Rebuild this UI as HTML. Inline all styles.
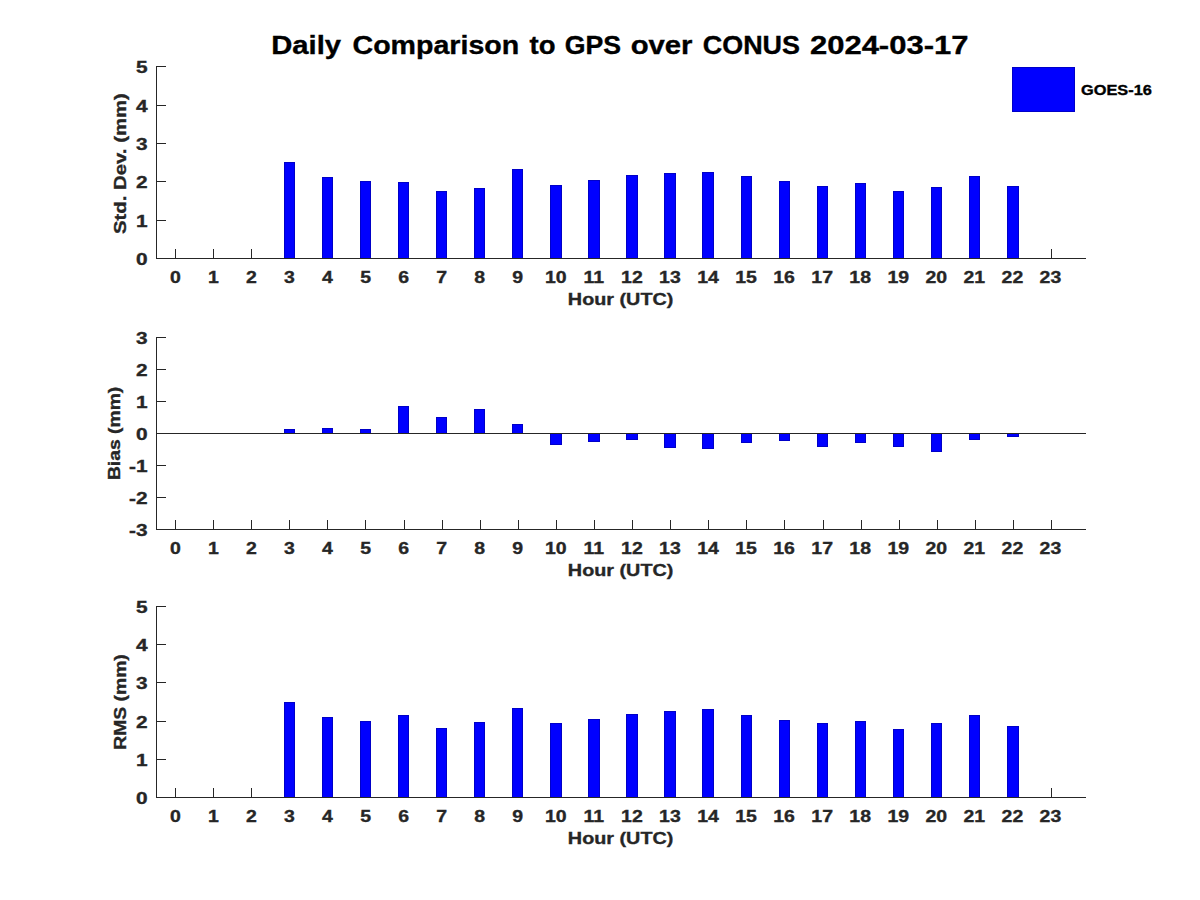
<!DOCTYPE html><html><head><meta charset="utf-8"><style>html,body{margin:0;padding:0;background:#fff;width:1200px;height:900px;overflow:hidden}svg{display:block}text{font-family:"Liberation Sans",sans-serif;font-weight:bold;stroke-width:0.35px}</style></head><body>
<svg width="1200" height="900" viewBox="0 0 1200 900">
<rect width="1200" height="900" fill="#fff"/>
<text transform="translate(271.25 54) scale(1.1250 1)" font-size="26" fill="#000" stroke="#000">Daily</text><text transform="translate(352.50 54) scale(1.0993 1)" font-size="26" fill="#000" stroke="#000">Comparison</text><text transform="translate(529.60 54) scale(1.0583 1)" font-size="26" fill="#000" stroke="#000">to</text><text transform="translate(564.77 54) scale(1.0264 1)" font-size="26" fill="#000" stroke="#000">GPS</text><text transform="translate(630.67 54) scale(1.1259 1)" font-size="26" fill="#000" stroke="#000">over</text><text transform="translate(702.76 54) scale(1.0359 1)" font-size="26" fill="#000" stroke="#000">CONUS</text><text transform="translate(809.91 54) scale(1.1924 1)" font-size="26" fill="#000" stroke="#000">2024-03-17</text>
<path d="M156 258.5H166M156 220.5H166M156 181.5H166M156 143.5H166M156 105.5H166M156 66.5H166M175.5 249V258M213.5 249V258M251.5 249V258M289.5 249V258M327.5 249V258M365.5 249V258M404.5 249V258M442.5 249V258M480.5 249V258M518.5 249V258M556.5 249V258M594.5 249V258M632.5 249V258M670.5 249V258M708.5 249V258M746.5 249V258M784.5 249V258M823.5 249V258M861.5 249V258M899.5 249V258M937.5 249V258M975.5 249V258M1013.5 249V258M1051.5 249V258" stroke="#262626" stroke-width="1" fill="none"/>
<rect x="284.5" y="162.5" width="10" height="96" fill="#0000ff" stroke="#0000c8" stroke-width="1"/>
<rect x="322.5" y="177.5" width="10" height="81" fill="#0000ff" stroke="#0000c8" stroke-width="1"/>
<rect x="360.5" y="181.5" width="10" height="77" fill="#0000ff" stroke="#0000c8" stroke-width="1"/>
<rect x="398.5" y="182.5" width="10" height="76" fill="#0000ff" stroke="#0000c8" stroke-width="1"/>
<rect x="436.5" y="191.5" width="10" height="67" fill="#0000ff" stroke="#0000c8" stroke-width="1"/>
<rect x="474.5" y="188.5" width="10" height="70" fill="#0000ff" stroke="#0000c8" stroke-width="1"/>
<rect x="512.5" y="169.5" width="10" height="89" fill="#0000ff" stroke="#0000c8" stroke-width="1"/>
<rect x="550.5" y="185.5" width="11" height="73" fill="#0000ff" stroke="#0000c8" stroke-width="1"/>
<rect x="588.5" y="180.5" width="11" height="78" fill="#0000ff" stroke="#0000c8" stroke-width="1"/>
<rect x="626.5" y="175.5" width="11" height="83" fill="#0000ff" stroke="#0000c8" stroke-width="1"/>
<rect x="664.5" y="173.5" width="11" height="85" fill="#0000ff" stroke="#0000c8" stroke-width="1"/>
<rect x="702.5" y="172.5" width="11" height="86" fill="#0000ff" stroke="#0000c8" stroke-width="1"/>
<rect x="741.5" y="176.5" width="10" height="82" fill="#0000ff" stroke="#0000c8" stroke-width="1"/>
<rect x="779.5" y="181.5" width="10" height="77" fill="#0000ff" stroke="#0000c8" stroke-width="1"/>
<rect x="817.5" y="186.5" width="10" height="72" fill="#0000ff" stroke="#0000c8" stroke-width="1"/>
<rect x="855.5" y="183.5" width="10" height="75" fill="#0000ff" stroke="#0000c8" stroke-width="1"/>
<rect x="893.5" y="191.5" width="10" height="67" fill="#0000ff" stroke="#0000c8" stroke-width="1"/>
<rect x="931.5" y="187.5" width="10" height="71" fill="#0000ff" stroke="#0000c8" stroke-width="1"/>
<rect x="969.5" y="176.5" width="10" height="82" fill="#0000ff" stroke="#0000c8" stroke-width="1"/>
<rect x="1007.5" y="186.5" width="11" height="72" fill="#0000ff" stroke="#0000c8" stroke-width="1"/>
<path d="M156.5 66V259M156 258.5H1086" stroke="#262626" stroke-width="1" fill="none"/>
<text transform="translate(147.5 265.2) scale(1.2 1)" font-size="17.4" fill="#262626" stroke="#262626" text-anchor="end">0</text>
<text transform="translate(147.5 227.2) scale(1.2 1)" font-size="17.4" fill="#262626" stroke="#262626" text-anchor="end">1</text>
<text transform="translate(147.5 188.2) scale(1.2 1)" font-size="17.4" fill="#262626" stroke="#262626" text-anchor="end">2</text>
<text transform="translate(147.5 150.2) scale(1.2 1)" font-size="17.4" fill="#262626" stroke="#262626" text-anchor="end">3</text>
<text transform="translate(147.5 112.2) scale(1.2 1)" font-size="17.4" fill="#262626" stroke="#262626" text-anchor="end">4</text>
<text transform="translate(147.5 73.2) scale(1.2 1)" font-size="17.4" fill="#262626" stroke="#262626" text-anchor="end">5</text>
<text transform="translate(175.30 283) scale(1.12 1)" font-size="17.4" fill="#262626" stroke="#262626" text-anchor="middle">0</text>
<text transform="translate(213.35 283) scale(1.12 1)" font-size="17.4" fill="#262626" stroke="#262626" text-anchor="middle">1</text>
<text transform="translate(251.40 283) scale(1.12 1)" font-size="17.4" fill="#262626" stroke="#262626" text-anchor="middle">2</text>
<text transform="translate(289.45 283) scale(1.12 1)" font-size="17.4" fill="#262626" stroke="#262626" text-anchor="middle">3</text>
<text transform="translate(327.50 283) scale(1.12 1)" font-size="17.4" fill="#262626" stroke="#262626" text-anchor="middle">4</text>
<text transform="translate(365.55 283) scale(1.12 1)" font-size="17.4" fill="#262626" stroke="#262626" text-anchor="middle">5</text>
<text transform="translate(403.60 283) scale(1.12 1)" font-size="17.4" fill="#262626" stroke="#262626" text-anchor="middle">6</text>
<text transform="translate(441.65 283) scale(1.12 1)" font-size="17.4" fill="#262626" stroke="#262626" text-anchor="middle">7</text>
<text transform="translate(479.70 283) scale(1.12 1)" font-size="17.4" fill="#262626" stroke="#262626" text-anchor="middle">8</text>
<text transform="translate(517.75 283) scale(1.12 1)" font-size="17.4" fill="#262626" stroke="#262626" text-anchor="middle">9</text>
<text transform="translate(555.80 283) scale(1.12 1)" font-size="17.4" fill="#262626" stroke="#262626" text-anchor="middle">10</text>
<text transform="translate(593.85 283) scale(1.12 1)" font-size="17.4" fill="#262626" stroke="#262626" text-anchor="middle">11</text>
<text transform="translate(631.90 283) scale(1.12 1)" font-size="17.4" fill="#262626" stroke="#262626" text-anchor="middle">12</text>
<text transform="translate(669.95 283) scale(1.12 1)" font-size="17.4" fill="#262626" stroke="#262626" text-anchor="middle">13</text>
<text transform="translate(708.00 283) scale(1.12 1)" font-size="17.4" fill="#262626" stroke="#262626" text-anchor="middle">14</text>
<text transform="translate(746.05 283) scale(1.12 1)" font-size="17.4" fill="#262626" stroke="#262626" text-anchor="middle">15</text>
<text transform="translate(784.10 283) scale(1.12 1)" font-size="17.4" fill="#262626" stroke="#262626" text-anchor="middle">16</text>
<text transform="translate(822.15 283) scale(1.12 1)" font-size="17.4" fill="#262626" stroke="#262626" text-anchor="middle">17</text>
<text transform="translate(860.20 283) scale(1.12 1)" font-size="17.4" fill="#262626" stroke="#262626" text-anchor="middle">18</text>
<text transform="translate(898.25 283) scale(1.12 1)" font-size="17.4" fill="#262626" stroke="#262626" text-anchor="middle">19</text>
<text transform="translate(936.30 283) scale(1.12 1)" font-size="17.4" fill="#262626" stroke="#262626" text-anchor="middle">20</text>
<text transform="translate(974.35 283) scale(1.12 1)" font-size="17.4" fill="#262626" stroke="#262626" text-anchor="middle">21</text>
<text transform="translate(1012.40 283) scale(1.12 1)" font-size="17.4" fill="#262626" stroke="#262626" text-anchor="middle">22</text>
<text transform="translate(1050.45 283) scale(1.12 1)" font-size="17.4" fill="#262626" stroke="#262626" text-anchor="middle">23</text>
<text transform="translate(620.6 305) scale(1.137 1)" font-size="17.4" fill="#262626" stroke="#262626" text-anchor="middle">Hour (UTC)</text>
<text transform="translate(125.7 163.6) rotate(-90) scale(1.17 1)" x="0" y="0" font-size="17.4" fill="#262626" stroke="#262626" text-anchor="middle">Std. Dev. (mm)</text>
<path d="M156 529.5H166M156 497.5H166M156 465.5H166M156 433.5H166M156 401.5H166M156 369.5H166M156 337.5H166M175.5 520V529M213.5 520V529M251.5 520V529M289.5 520V529M327.5 520V529M365.5 520V529M404.5 520V529M442.5 520V529M480.5 520V529M518.5 520V529M556.5 520V529M594.5 520V529M632.5 520V529M670.5 520V529M708.5 520V529M746.5 520V529M784.5 520V529M823.5 520V529M861.5 520V529M899.5 520V529M937.5 520V529M975.5 520V529M1013.5 520V529M1051.5 520V529" stroke="#262626" stroke-width="1" fill="none"/>
<rect x="284.5" y="429.5" width="10" height="4" fill="#0000ff" stroke="#0000c8" stroke-width="1"/>
<rect x="322.5" y="428.5" width="10" height="5" fill="#0000ff" stroke="#0000c8" stroke-width="1"/>
<rect x="360.5" y="429.5" width="10" height="4" fill="#0000ff" stroke="#0000c8" stroke-width="1"/>
<rect x="398.5" y="406.5" width="10" height="27" fill="#0000ff" stroke="#0000c8" stroke-width="1"/>
<rect x="436.5" y="417.5" width="10" height="16" fill="#0000ff" stroke="#0000c8" stroke-width="1"/>
<rect x="474.5" y="409.5" width="10" height="24" fill="#0000ff" stroke="#0000c8" stroke-width="1"/>
<rect x="512.5" y="424.5" width="10" height="9" fill="#0000ff" stroke="#0000c8" stroke-width="1"/>
<rect x="550.5" y="433.5" width="11" height="11" fill="#0000ff" stroke="#0000c8" stroke-width="1"/>
<rect x="588.5" y="433.5" width="11" height="8" fill="#0000ff" stroke="#0000c8" stroke-width="1"/>
<rect x="626.5" y="433.5" width="11" height="6" fill="#0000ff" stroke="#0000c8" stroke-width="1"/>
<rect x="664.5" y="433.5" width="11" height="14" fill="#0000ff" stroke="#0000c8" stroke-width="1"/>
<rect x="702.5" y="433.5" width="11" height="15" fill="#0000ff" stroke="#0000c8" stroke-width="1"/>
<rect x="741.5" y="433.5" width="10" height="9" fill="#0000ff" stroke="#0000c8" stroke-width="1"/>
<rect x="779.5" y="433.5" width="10" height="7" fill="#0000ff" stroke="#0000c8" stroke-width="1"/>
<rect x="817.5" y="433.5" width="10" height="13" fill="#0000ff" stroke="#0000c8" stroke-width="1"/>
<rect x="855.5" y="433.5" width="10" height="9" fill="#0000ff" stroke="#0000c8" stroke-width="1"/>
<rect x="893.5" y="433.5" width="10" height="13" fill="#0000ff" stroke="#0000c8" stroke-width="1"/>
<rect x="931.5" y="433.5" width="10" height="18" fill="#0000ff" stroke="#0000c8" stroke-width="1"/>
<rect x="969.5" y="433.5" width="10" height="6" fill="#0000ff" stroke="#0000c8" stroke-width="1"/>
<rect x="1007.5" y="433.5" width="11" height="3" fill="#0000ff" stroke="#0000c8" stroke-width="1"/>
<path d="M156.5 337V530M156 529.5H1086" stroke="#262626" stroke-width="1" fill="none"/>
<path d="M156 433.5H1086" stroke="#262626" stroke-width="1" fill="none"/>
<text transform="translate(147.5 536.2) scale(1.2 1)" font-size="17.4" fill="#262626" stroke="#262626" text-anchor="end">-3</text>
<text transform="translate(147.5 504.2) scale(1.2 1)" font-size="17.4" fill="#262626" stroke="#262626" text-anchor="end">-2</text>
<text transform="translate(147.5 472.2) scale(1.2 1)" font-size="17.4" fill="#262626" stroke="#262626" text-anchor="end">-1</text>
<text transform="translate(147.5 440.2) scale(1.2 1)" font-size="17.4" fill="#262626" stroke="#262626" text-anchor="end">0</text>
<text transform="translate(147.5 408.2) scale(1.2 1)" font-size="17.4" fill="#262626" stroke="#262626" text-anchor="end">1</text>
<text transform="translate(147.5 376.2) scale(1.2 1)" font-size="17.4" fill="#262626" stroke="#262626" text-anchor="end">2</text>
<text transform="translate(147.5 344.2) scale(1.2 1)" font-size="17.4" fill="#262626" stroke="#262626" text-anchor="end">3</text>
<text transform="translate(175.30 554) scale(1.12 1)" font-size="17.4" fill="#262626" stroke="#262626" text-anchor="middle">0</text>
<text transform="translate(213.35 554) scale(1.12 1)" font-size="17.4" fill="#262626" stroke="#262626" text-anchor="middle">1</text>
<text transform="translate(251.40 554) scale(1.12 1)" font-size="17.4" fill="#262626" stroke="#262626" text-anchor="middle">2</text>
<text transform="translate(289.45 554) scale(1.12 1)" font-size="17.4" fill="#262626" stroke="#262626" text-anchor="middle">3</text>
<text transform="translate(327.50 554) scale(1.12 1)" font-size="17.4" fill="#262626" stroke="#262626" text-anchor="middle">4</text>
<text transform="translate(365.55 554) scale(1.12 1)" font-size="17.4" fill="#262626" stroke="#262626" text-anchor="middle">5</text>
<text transform="translate(403.60 554) scale(1.12 1)" font-size="17.4" fill="#262626" stroke="#262626" text-anchor="middle">6</text>
<text transform="translate(441.65 554) scale(1.12 1)" font-size="17.4" fill="#262626" stroke="#262626" text-anchor="middle">7</text>
<text transform="translate(479.70 554) scale(1.12 1)" font-size="17.4" fill="#262626" stroke="#262626" text-anchor="middle">8</text>
<text transform="translate(517.75 554) scale(1.12 1)" font-size="17.4" fill="#262626" stroke="#262626" text-anchor="middle">9</text>
<text transform="translate(555.80 554) scale(1.12 1)" font-size="17.4" fill="#262626" stroke="#262626" text-anchor="middle">10</text>
<text transform="translate(593.85 554) scale(1.12 1)" font-size="17.4" fill="#262626" stroke="#262626" text-anchor="middle">11</text>
<text transform="translate(631.90 554) scale(1.12 1)" font-size="17.4" fill="#262626" stroke="#262626" text-anchor="middle">12</text>
<text transform="translate(669.95 554) scale(1.12 1)" font-size="17.4" fill="#262626" stroke="#262626" text-anchor="middle">13</text>
<text transform="translate(708.00 554) scale(1.12 1)" font-size="17.4" fill="#262626" stroke="#262626" text-anchor="middle">14</text>
<text transform="translate(746.05 554) scale(1.12 1)" font-size="17.4" fill="#262626" stroke="#262626" text-anchor="middle">15</text>
<text transform="translate(784.10 554) scale(1.12 1)" font-size="17.4" fill="#262626" stroke="#262626" text-anchor="middle">16</text>
<text transform="translate(822.15 554) scale(1.12 1)" font-size="17.4" fill="#262626" stroke="#262626" text-anchor="middle">17</text>
<text transform="translate(860.20 554) scale(1.12 1)" font-size="17.4" fill="#262626" stroke="#262626" text-anchor="middle">18</text>
<text transform="translate(898.25 554) scale(1.12 1)" font-size="17.4" fill="#262626" stroke="#262626" text-anchor="middle">19</text>
<text transform="translate(936.30 554) scale(1.12 1)" font-size="17.4" fill="#262626" stroke="#262626" text-anchor="middle">20</text>
<text transform="translate(974.35 554) scale(1.12 1)" font-size="17.4" fill="#262626" stroke="#262626" text-anchor="middle">21</text>
<text transform="translate(1012.40 554) scale(1.12 1)" font-size="17.4" fill="#262626" stroke="#262626" text-anchor="middle">22</text>
<text transform="translate(1050.45 554) scale(1.12 1)" font-size="17.4" fill="#262626" stroke="#262626" text-anchor="middle">23</text>
<text transform="translate(620.6 576) scale(1.137 1)" font-size="17.4" fill="#262626" stroke="#262626" text-anchor="middle">Hour (UTC)</text>
<text transform="translate(120 433.4) rotate(-90) scale(1.11 1)" x="0" y="0" font-size="17.4" fill="#262626" stroke="#262626" text-anchor="middle">Bias (mm)</text>
<path d="M156 797.5H166M156 759.5H166M156 721.5H166M156 682.5H166M156 644.5H166M156 606.5H166M175.5 788V797M213.5 788V797M251.5 788V797M289.5 788V797M327.5 788V797M365.5 788V797M404.5 788V797M442.5 788V797M480.5 788V797M518.5 788V797M556.5 788V797M594.5 788V797M632.5 788V797M670.5 788V797M708.5 788V797M746.5 788V797M784.5 788V797M823.5 788V797M861.5 788V797M899.5 788V797M937.5 788V797M975.5 788V797M1013.5 788V797M1051.5 788V797" stroke="#262626" stroke-width="1" fill="none"/>
<rect x="284.5" y="702.5" width="10" height="95" fill="#0000ff" stroke="#0000c8" stroke-width="1"/>
<rect x="322.5" y="717.5" width="10" height="80" fill="#0000ff" stroke="#0000c8" stroke-width="1"/>
<rect x="360.5" y="721.5" width="10" height="76" fill="#0000ff" stroke="#0000c8" stroke-width="1"/>
<rect x="398.5" y="715.5" width="10" height="82" fill="#0000ff" stroke="#0000c8" stroke-width="1"/>
<rect x="436.5" y="728.5" width="10" height="69" fill="#0000ff" stroke="#0000c8" stroke-width="1"/>
<rect x="474.5" y="722.5" width="10" height="75" fill="#0000ff" stroke="#0000c8" stroke-width="1"/>
<rect x="512.5" y="708.5" width="10" height="89" fill="#0000ff" stroke="#0000c8" stroke-width="1"/>
<rect x="550.5" y="723.5" width="11" height="74" fill="#0000ff" stroke="#0000c8" stroke-width="1"/>
<rect x="588.5" y="719.5" width="11" height="78" fill="#0000ff" stroke="#0000c8" stroke-width="1"/>
<rect x="626.5" y="714.5" width="11" height="83" fill="#0000ff" stroke="#0000c8" stroke-width="1"/>
<rect x="664.5" y="711.5" width="11" height="86" fill="#0000ff" stroke="#0000c8" stroke-width="1"/>
<rect x="702.5" y="709.5" width="11" height="88" fill="#0000ff" stroke="#0000c8" stroke-width="1"/>
<rect x="741.5" y="715.5" width="10" height="82" fill="#0000ff" stroke="#0000c8" stroke-width="1"/>
<rect x="779.5" y="720.5" width="10" height="77" fill="#0000ff" stroke="#0000c8" stroke-width="1"/>
<rect x="817.5" y="723.5" width="10" height="74" fill="#0000ff" stroke="#0000c8" stroke-width="1"/>
<rect x="855.5" y="721.5" width="10" height="76" fill="#0000ff" stroke="#0000c8" stroke-width="1"/>
<rect x="893.5" y="729.5" width="10" height="68" fill="#0000ff" stroke="#0000c8" stroke-width="1"/>
<rect x="931.5" y="723.5" width="10" height="74" fill="#0000ff" stroke="#0000c8" stroke-width="1"/>
<rect x="969.5" y="715.5" width="10" height="82" fill="#0000ff" stroke="#0000c8" stroke-width="1"/>
<rect x="1007.5" y="726.5" width="11" height="71" fill="#0000ff" stroke="#0000c8" stroke-width="1"/>
<path d="M156.5 606V798M156 797.5H1086" stroke="#262626" stroke-width="1" fill="none"/>
<text transform="translate(147.5 804.2) scale(1.2 1)" font-size="17.4" fill="#262626" stroke="#262626" text-anchor="end">0</text>
<text transform="translate(147.5 766.2) scale(1.2 1)" font-size="17.4" fill="#262626" stroke="#262626" text-anchor="end">1</text>
<text transform="translate(147.5 728.2) scale(1.2 1)" font-size="17.4" fill="#262626" stroke="#262626" text-anchor="end">2</text>
<text transform="translate(147.5 689.2) scale(1.2 1)" font-size="17.4" fill="#262626" stroke="#262626" text-anchor="end">3</text>
<text transform="translate(147.5 651.2) scale(1.2 1)" font-size="17.4" fill="#262626" stroke="#262626" text-anchor="end">4</text>
<text transform="translate(147.5 613.2) scale(1.2 1)" font-size="17.4" fill="#262626" stroke="#262626" text-anchor="end">5</text>
<text transform="translate(175.30 822) scale(1.12 1)" font-size="17.4" fill="#262626" stroke="#262626" text-anchor="middle">0</text>
<text transform="translate(213.35 822) scale(1.12 1)" font-size="17.4" fill="#262626" stroke="#262626" text-anchor="middle">1</text>
<text transform="translate(251.40 822) scale(1.12 1)" font-size="17.4" fill="#262626" stroke="#262626" text-anchor="middle">2</text>
<text transform="translate(289.45 822) scale(1.12 1)" font-size="17.4" fill="#262626" stroke="#262626" text-anchor="middle">3</text>
<text transform="translate(327.50 822) scale(1.12 1)" font-size="17.4" fill="#262626" stroke="#262626" text-anchor="middle">4</text>
<text transform="translate(365.55 822) scale(1.12 1)" font-size="17.4" fill="#262626" stroke="#262626" text-anchor="middle">5</text>
<text transform="translate(403.60 822) scale(1.12 1)" font-size="17.4" fill="#262626" stroke="#262626" text-anchor="middle">6</text>
<text transform="translate(441.65 822) scale(1.12 1)" font-size="17.4" fill="#262626" stroke="#262626" text-anchor="middle">7</text>
<text transform="translate(479.70 822) scale(1.12 1)" font-size="17.4" fill="#262626" stroke="#262626" text-anchor="middle">8</text>
<text transform="translate(517.75 822) scale(1.12 1)" font-size="17.4" fill="#262626" stroke="#262626" text-anchor="middle">9</text>
<text transform="translate(555.80 822) scale(1.12 1)" font-size="17.4" fill="#262626" stroke="#262626" text-anchor="middle">10</text>
<text transform="translate(593.85 822) scale(1.12 1)" font-size="17.4" fill="#262626" stroke="#262626" text-anchor="middle">11</text>
<text transform="translate(631.90 822) scale(1.12 1)" font-size="17.4" fill="#262626" stroke="#262626" text-anchor="middle">12</text>
<text transform="translate(669.95 822) scale(1.12 1)" font-size="17.4" fill="#262626" stroke="#262626" text-anchor="middle">13</text>
<text transform="translate(708.00 822) scale(1.12 1)" font-size="17.4" fill="#262626" stroke="#262626" text-anchor="middle">14</text>
<text transform="translate(746.05 822) scale(1.12 1)" font-size="17.4" fill="#262626" stroke="#262626" text-anchor="middle">15</text>
<text transform="translate(784.10 822) scale(1.12 1)" font-size="17.4" fill="#262626" stroke="#262626" text-anchor="middle">16</text>
<text transform="translate(822.15 822) scale(1.12 1)" font-size="17.4" fill="#262626" stroke="#262626" text-anchor="middle">17</text>
<text transform="translate(860.20 822) scale(1.12 1)" font-size="17.4" fill="#262626" stroke="#262626" text-anchor="middle">18</text>
<text transform="translate(898.25 822) scale(1.12 1)" font-size="17.4" fill="#262626" stroke="#262626" text-anchor="middle">19</text>
<text transform="translate(936.30 822) scale(1.12 1)" font-size="17.4" fill="#262626" stroke="#262626" text-anchor="middle">20</text>
<text transform="translate(974.35 822) scale(1.12 1)" font-size="17.4" fill="#262626" stroke="#262626" text-anchor="middle">21</text>
<text transform="translate(1012.40 822) scale(1.12 1)" font-size="17.4" fill="#262626" stroke="#262626" text-anchor="middle">22</text>
<text transform="translate(1050.45 822) scale(1.12 1)" font-size="17.4" fill="#262626" stroke="#262626" text-anchor="middle">23</text>
<text transform="translate(620.6 844) scale(1.137 1)" font-size="17.4" fill="#262626" stroke="#262626" text-anchor="middle">Hour (UTC)</text>
<text transform="translate(126 702.0) rotate(-90) scale(1.11 1)" x="0" y="0" font-size="17.4" fill="#262626" stroke="#262626" text-anchor="middle">RMS (mm)</text>
<rect x="1012.5" y="67.5" width="62" height="44" fill="#0000ff" stroke="#0000c8" stroke-width="1"/>
<text transform="translate(1081 95) scale(1.07 1)" font-size="15.3" fill="#000" stroke="#000">GOES-16</text>
</svg></body></html>
